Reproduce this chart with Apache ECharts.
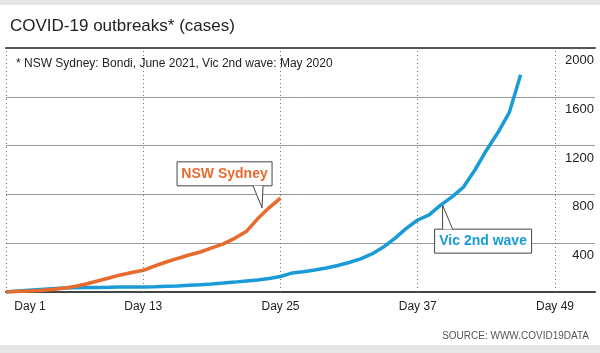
<!DOCTYPE html>
<html lang="en">
<head>
    <meta charset="UTF-8">
    <title>COVID-19 outbreaks</title>
    <style>
        body { margin: 0; background: #e6e6e6; }
        #chart { width: 600px; height: 340px; margin-top: 5px; background: #fff; }
    </style>
</head>
<body>
    <div id="chart"></div>
    <script src="https://cdn.jsdelivr.net/npm/echarts@6.0.0/dist/echarts.min.js"></script>
    <script>
        // cases by day of outbreak, day 1 first
        const nswCases = [0, 4, 8, 13, 20, 30, 45, 66, 90, 115, 140, 160, 178, 213, 246,
            275, 303, 328, 361, 394, 440, 495, 600, 690, 770];
        const vicCases = [0, 8, 14, 20, 26, 32, 34, 36, 37, 38, 40, 41, 42, 44, 47, 50,
            55, 60, 66, 73, 81, 90, 99, 110, 127, 155, 166, 181, 197, 217, 242, 272, 312,
            368, 440, 522, 590, 632, 712, 780, 860, 1000, 1160, 1305, 1470, 1780];
        const dayTicks = [1, 13, 25, 37, 49];

        const FONT = "'Liberation Sans', Arial, sans-serif";
        const ORANGE = '#e86a2c';
        const BLUE = '#1a9bd7';

        // x value = days since day 1
        const toPairs = arr => arr.map((v, i) => [i, v]);

        const chart = echarts.init(document.getElementById('chart'));

        chart.setOption({
            animation: false,
            textStyle: { fontFamily: FONT },
            title: [
                { text: 'COVID-19 outbreaks* (cases)', left: 5, top: 8,
                  textStyle: { fontSize: 17, fontWeight: 'normal', color: '#222', fontFamily: FONT } },
                { text: '* NSW Sydney: Bondi, June 2021, Vic 2nd wave: May 2020', left: 11, top: 48,
                  textStyle: { fontSize: 12, fontWeight: 'normal', color: '#222', fontFamily: FONT } },
                { text: 'SOURCE: WWW.COVID19DATA', right: 6, top: 321,
                  textStyle: { fontSize: 10, fontWeight: 'normal', color: '#555', fontFamily: FONT } }
            ],
            grid: { left: 6, right: 5, top: 43, bottom: 53, containLabel: false },
            xAxis: [{
                type: 'value', min: 0, max: 51.5, interval: 12,
                axisLine: { lineStyle: { color: '#444', width: 2 } },
                axisTick: { show: false },
                splitLine: { show: false },
                axisLabel: {
                    showMaxLabel: false, margin: 9, fontSize: 12, color: '#222', fontFamily: FONT,
                    formatter: v => v === 0 ? '{first|Day 1}' : 'Day ' + (v + 1),
                    rich: { first: { padding: [0, 0, 0, 48], fontSize: 12, color: '#222', fontFamily: FONT } }
                }
            }, {
                type: 'value', position: 'top', min: 0, max: 51.5,
                axisLine: { show: true, lineStyle: { color: '#555', width: 2 } },
                axisTick: { show: false }, axisLabel: { show: false }, splitLine: { show: false }
            }],
            yAxis: {
                type: 'value', position: 'right', min: 0, max: 2000, interval: 400,
                axisLine: { show: false }, axisTick: { show: false },
                splitLine: { lineStyle: { color: '#999', width: 1 } },
                axisLabel: {
                    inside: true, showMinLabel: false, margin: 1, fontSize: 13, color: '#222',
                    fontFamily: FONT, verticalAlign: 'top', padding: [6, 0, 0, 0],
                    formatter: v => String(v)
                }
            },
            series: [{
                name: 'Vic 2nd wave', type: 'line', data: toPairs(vicCases),
                showSymbol: false, lineStyle: { color: BLUE, width: 3.5 }, z: 3,
                markLine: {
                    silent: true, symbol: 'none', label: { show: false },
                    lineStyle: { color: '#777', type: [1, 3], width: 1 },
                    data: dayTicks.map(d => ({ xAxis: d - 1 }))
                }
            }, {
                name: 'NSW Sydney', type: 'line', data: toPairs(nswCases),
                showSymbol: false, lineStyle: { color: ORANGE, width: 3.5 }, z: 4
            }]
        });

        // callout boxes anchored on a data point
        function callout(anchor, color, label, box, tail) {
            const p = chart.convertToPixel({ xAxisIndex: 0, yAxisIndex: 0 }, anchor);
            const pts = tail.map(t => [p[0] + t[0], p[1] + t[1]]);
            return {
                type: 'group', x: 0, y: 0, z: 100,
                children: [
                    { type: 'rect', shape: { x: p[0] + box[0], y: p[1] + box[1], width: box[2], height: box[3] },
                      style: { fill: '#fff', stroke: '#444', lineWidth: 1 } },
                    { type: 'polygon', shape: { points: pts }, style: { fill: '#fff' } },
                    { type: 'polyline', shape: { points: pts }, style: { stroke: '#444', lineWidth: 1, fill: null } },
                    { type: 'text', x: p[0] + box[0] + box[2] / 2, y: p[1] + box[1] + box[3] / 2,
                      style: { text: label, fill: color, font: "bold 14px " + FONT,
                               align: 'center', verticalAlign: 'middle' } }
                ]
            };
        }

        chart.setOption({
            graphic: [
                callout([23, nswCases[23]], ORANGE, 'NSW Sydney',
                    [-92, -46, 95, 24], [[-16, -22], [-7, 0], [-6, -22]]),
                callout([38, vicCases[38]], BLUE, 'Vic 2nd wave',
                    [-6, 24, 97, 24], [[2, 24], [2, 0], [12, 24]])
            ]
        });
    </script>
</body>
</html>
